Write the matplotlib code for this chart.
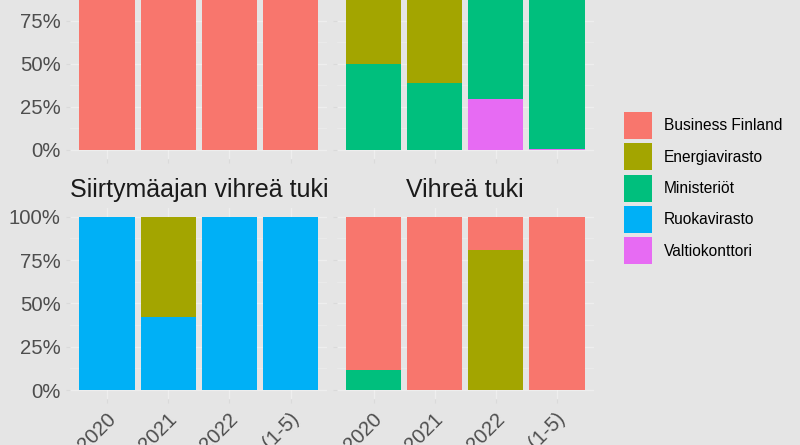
import numpy as np
import matplotlib
matplotlib.use("Agg")
import matplotlib.pyplot as plt
from matplotlib.patches import Patch
import matplotlib.transforms as mtransforms

plt.rcParams['font.family'] = ['Liberation Sans', 'DejaVu Sans']

years = ['2020', '2021', '2022', '2023 (1-5)']
agencies = ['Business Finland', 'Energiavirasto', 'Ministeriöt',
            'Ruokavirasto', 'Valtiokonttori']
colors = ['#F8766D', '#A3A500', '#00BF7D', '#00B0F6', '#E76BF3']

# shares per agency for each panel (top panels are cut off in the picture)
top_left = {'Business Finland': [1.0, 1.0, 1.0, 1.0]}
top_right = {'Energiavirasto': [0.50, 0.61, 0.0, 0.0],
             'Ministeriöt': [0.50, 0.39, 0.705, 0.997],
             'Valtiokonttori': [0.0, 0.0, 0.295, 0.003]}
siirtyma = {'Energiavirasto': [0.0, 0.58, 0.0, 0.0],
            'Ruokavirasto': [1.0, 0.42, 1.0, 1.0]}
vihrea = {'Business Finland': [0.884, 0.997, 0.19, 1.0],
          'Energiavirasto': [0.0, 0.0, 0.81, 0.0],
          'Ministeriöt': [0.116, 0.003, 0.0, 0.0]}

bg = '#E5E5E5'
fig = plt.figure(figsize=(8, 4.45), dpi=100, facecolor=bg)

W, H = 800, 445
def pos(left, right, top, bottom):
    return [left / W, (H - bottom) / H, (right - left) / W, (bottom - top) / H]

panels = [
    (top_left, pos(70.3, 327.2, -31, 158.6), None, True, False),
    (top_right, pos(336.8, 593.7, -31, 158.6), None, False, False),
    (siirtyma, pos(70.3, 327.2, 208, 398.7), 'Siirtymäajan vihreä tuki', True, True),
    (vihrea, pos(336.8, 593.7, 208, 398.7), 'Vihreä tuki', False, True),
]

x = np.arange(len(years))
stack_order = agencies[::-1]  # first level ends up on top

for data, rect, title, show_y, show_x in panels:
    ax = fig.add_axes(rect)
    ax.set_facecolor(bg)
    for s in ax.spines.values():
        s.set_visible(False)
    bottom = np.zeros(len(years))
    for ag in stack_order:
        if ag not in data:
            continue
        vals = np.array(data[ag])
        ax.bar(x, vals, width=0.9, bottom=bottom,
               color=colors[agencies.index(ag)], linewidth=0, zorder=3)
        bottom += vals
    ax.set_xlim(-0.6, len(years) - 0.4)
    ax.set_ylim(-0.05, 1.05)
    ax.set_yticks([0, 0.25, 0.5, 0.75, 1.0])
    ax.set_yticks([0.125, 0.375, 0.625, 0.875], minor=True)
    ax.grid(True, which='major', color='white', linewidth=1.0, alpha=0.35, zorder=0)
    ax.grid(True, which='minor', axis='y', color='white', linewidth=0.5, alpha=0.3, zorder=0)
    ax.set_xticks(x)
    ax.tick_params(axis='both', which='both', length=3, color='#DADADA',
                   labelsize=14.6, labelcolor='#4D4D4D', pad=4)
    ax.tick_params(axis='y', which='minor', length=0)
    if show_y:
        ax.set_yticklabels(['0%', '25%', '50%', '75%', '100%'])
    else:
        ax.set_yticklabels([])
    if show_x:
        labels = ax.set_xticklabels(years, rotation=45, ha='right', va='top',
                                    rotation_mode='anchor')
        off = mtransforms.ScaledTranslation(-1 / 100, -1 / 100, fig.dpi_scale_trans)
        for lab in labels:
            lab.set_transform(lab.get_transform() + off)
    else:
        ax.set_xticklabels([])
    if title:
        ax.set_title(title, fontsize=18, color='#1A1A1A', pad=8)

handles = [Patch(facecolor=c, edgecolor='none') for c in colors]
fig.legend(handles, agencies, loc='upper left', bbox_to_anchor=(0.78, 0.748),
           frameon=False, fontsize=11.2, handlelength=1.79, handleheight=2.3,
           labelspacing=0.27, handletextpad=0.77, borderpad=0, borderaxespad=0)

fig.savefig('out.png', dpi=100, facecolor=bg)
